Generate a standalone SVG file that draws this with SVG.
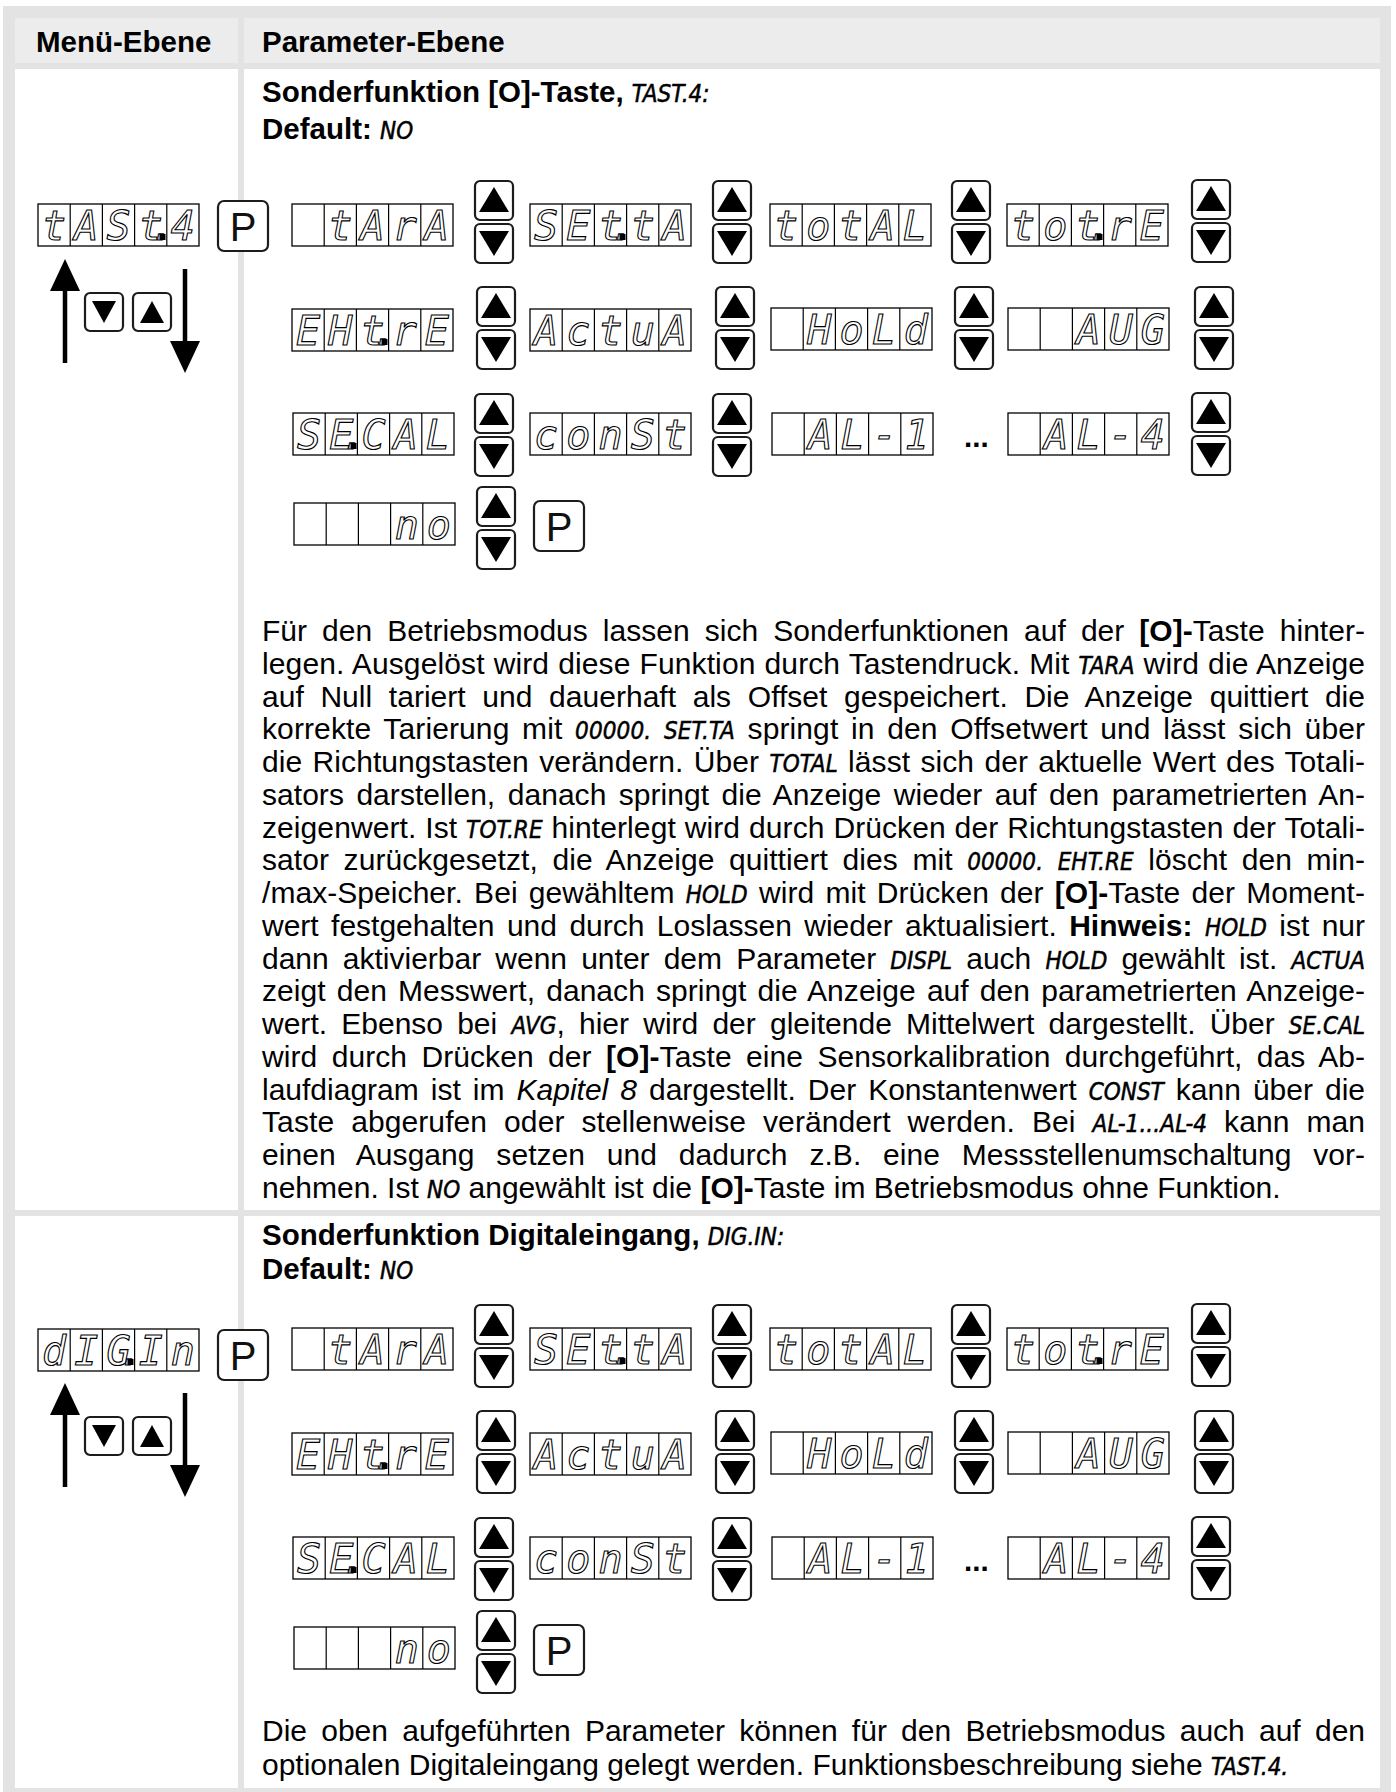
<svg xmlns="http://www.w3.org/2000/svg" width="1396" height="1792" viewBox="0 0 1396 1792">
<style>
.t{font-family:'Liberation Sans',Arial,Helvetica,sans-serif;font-size:30px;fill:#000}
.h{font-family:'Liberation Sans',Arial,Helvetica,sans-serif;font-size:29.5px;font-weight:bold;fill:#000}
.b{font-weight:bold}
.i{font-style:italic}
.c{font-family:'DejaVu Sans Condensed','DejaVu Sans',sans-serif;font-stretch:condensed;font-weight:normal;font-style:oblique;font-size:24px;stroke:#000;stroke-width:0.5}
.seg{font-family:'DejaVu Sans Mono',monospace;font-style:oblique;font-size:40px;fill:#fff;stroke:#000;stroke-width:1.1;text-anchor:middle}
.dpr{fill:#000}
.pt{font-family:'Liberation Sans',Arial,sans-serif;font-size:40px;text-anchor:middle;fill:#111}
.btn{fill:#fff;stroke:#1c1c1c;stroke-width:2.2}
.tri{fill:#000}
.cell{fill:#fff;stroke:#000;stroke-width:1.3}
.grid{stroke:#000;stroke-width:1.2;fill:none}
.arr{stroke:#000;stroke-width:4.5}
</style>
<defs>
<g id="d5"><rect class="cell" width="161" height="42"/><path class="grid" d="M32.2 0V42M64.4 0V42M96.6 0V42M128.8 0V42"/></g>
<g id="ud"><rect class="btn" width="38" height="39" rx="5"/><path class="tri" d="M19 6L34 31H4Z"/><rect class="btn" y="43" width="38" height="39" rx="5"/><path class="tri" d="M4 50H34L19 75Z"/></g>
<rect id="pb" class="btn" width="50" height="50" rx="6"/>
<g id="sdn"><rect class="btn" width="38" height="38" rx="5"/><path class="tri" d="M7 8H31L19 30Z"/></g>
<g id="sup"><rect class="btn" width="38" height="38" rx="5"/><path class="tri" d="M19 8L31 30H7Z"/></g>
</defs>
<rect width="1396" height="1792" fill="#fff"/>
<g id="frame">
<rect x="3" y="6" width="1388" height="1786" fill="#e3e3e3"/>
<rect x="15" y="18" width="223" height="45" fill="#ececec"/>
<rect x="244" y="18" width="1136" height="45" fill="#ececec"/>
<rect x="15" y="69" width="223" height="1141" fill="#fff"/>
<rect x="244" y="69" width="1136" height="1141" fill="#fff"/>
<rect x="15" y="1216" width="223" height="572" fill="#fff"/>
<rect x="244" y="1216" width="1136" height="572" fill="#fff"/>
</g>
<g id="header">
<text class="h" x="36" y="52">Menü-Ebene</text>
<text class="h" x="262" y="52">Parameter-Ebene</text>
</g>

<!-- ROW 1: TAST.4 -->
<g id="row1-title">
<text class="h" x="262" y="102">Sonderfunktion [O]-Taste, <tspan class="c">TAST.4:</tspan></text>
<text class="h" x="262" y="139">Default: <tspan class="c">NO</tspan></text>
</g>
<g id="menu-tast4" transform="translate(38,204)"><use href="#d5"/><text class="seg" x="16.1 48.3 80.5 112.7 124.5 144.9" y="36">tASt.4</text><rect class="dpr" x="121.5" y="30" width="6" height="6"/></g>
<g id="menu-p1"><use href="#pb" x="218" y="201"/><text class="pt" x="243" y="241">P</text></g>
<g id="menu-keys1"><use href="#sdn" x="85" y="293"/><use href="#sup" x="133" y="293"/></g>

<g id="p1-tara" transform="translate(292,204)"><use href="#d5"/><text class="seg" x="48.3 80.5 112.7 144.9" y="36">tArA</text></g>
<g id="p1-ud1"><use href="#ud" x="475" y="181"/></g>
<g id="p1-setta" transform="translate(530,204)"><use href="#d5"/><text class="seg" x="16.1 48.3 80.5 92.5 112.7 144.9" y="36">SEt.tA</text><rect class="dpr" x="89.5" y="30" width="6" height="6"/></g>
<g id="p1-ud2"><use href="#ud" x="713" y="181"/></g>
<g id="p1-total" transform="translate(770,204)"><use href="#d5"/><text class="seg" x="16.1 48.3 80.5 112.7 144.9" y="36">totAL</text></g>
<g id="p1-ud3"><use href="#ud" x="952" y="181"/></g>
<g id="p1-totre" transform="translate(1007,204)"><use href="#d5"/><text class="seg" x="16.1 48.3 80.5 92.5 112.7 144.9" y="36">tot.rE</text><rect class="dpr" x="89.5" y="30" width="6" height="6"/></g>
<g id="p1-ud4"><use href="#ud" x="1192" y="180"/></g>

<g id="p1-ehtre" transform="translate(292,309)"><use href="#d5"/><text class="seg" x="16.1 48.3 80.5 92.5 112.7 144.9" y="36">EHt.rE</text><rect class="dpr" x="89.5" y="30" width="6" height="6"/></g>
<g id="p1-ud5"><use href="#ud" x="477" y="287"/></g>
<g id="p1-actua" transform="translate(530,309)"><use href="#d5"/><text class="seg" x="16.1 48.3 80.5 112.7 144.9" y="36">ActuA</text></g>
<g id="p1-ud6"><use href="#ud" x="716" y="287"/></g>
<g id="p1-hold" transform="translate(771,308)"><use href="#d5"/><text class="seg" x="48.3 80.5 112.7 144.9" y="36">HoLd</text></g>
<g id="p1-ud7"><use href="#ud" x="955" y="287"/></g>
<g id="p1-avg" transform="translate(1008,308)"><use href="#d5"/><text class="seg" x="80.5 112.7 144.9" y="36">AUG</text></g>
<g id="p1-ud8"><use href="#ud" x="1195" y="287"/></g>

<g id="p1-secal" transform="translate(293,413)"><use href="#d5"/><text class="seg" x="16.1 48.3 60.5 80.5 112.7 144.9" y="36">SE.CAL</text><rect class="dpr" x="57.5" y="30" width="6" height="6"/></g>
<g id="p1-ud9"><use href="#ud" x="475" y="394"/></g>
<g id="p1-const" transform="translate(530,413)"><use href="#d5"/><text class="seg" x="16.1 48.3 80.5 112.7 144.9" y="36">conSt</text></g>
<g id="p1-ud10"><use href="#ud" x="713" y="394"/></g>
<g id="p1-al1" transform="translate(772,413)"><use href="#d5"/><text class="seg" x="48.3 80.5 112.7 144.9" y="36">AL-1</text></g>
<g id="p1-dots"><text class="h" x="964" y="447">...</text></g>
<g id="p1-al4" transform="translate(1008,413)"><use href="#d5"/><text class="seg" x="48.3 80.5 112.7 144.9" y="36">AL-4</text></g>
<g id="p1-ud11"><use href="#ud" x="1192" y="393"/></g>

<g id="p1-no" transform="translate(294,503)"><use href="#d5"/><text class="seg" x="112.7 144.9" y="36">no</text></g>
<g id="p1-ud12"><use href="#ud" x="477" y="487"/></g>
<g id="p1-p"><use href="#pb" x="534" y="501"/><text class="pt" x="559" y="541">P</text></g>

<g id="row1-text" class="t">
<text x="262" y="641" word-spacing="6.6" textLength="1103" lengthAdjust="spacing">Für den Betriebsmodus lassen sich Sonderfunktionen auf der <tspan class="b">[O]-</tspan>Taste hinter-</text>
<text x="262" y="673.8" word-spacing="0.6" textLength="1103" lengthAdjust="spacing">legen. Ausgelöst wird diese Funktion durch Tastendruck. Mit <tspan class="c">TARA</tspan> wird die Anzeige</text>
<text x="262" y="706.5" word-spacing="8.3" textLength="1103" lengthAdjust="spacing">auf Null tariert und dauerhaft als Offset gespeichert. Die Anzeige quittiert die</text>
<text x="262" y="739.3" word-spacing="4.2" textLength="1103" lengthAdjust="spacing">korrekte Tarierung mit <tspan class="c">00000.</tspan> <tspan class="c">SET.TA</tspan> springt in den Offsetwert und lässt sich über</text>
<text x="262" y="772" word-spacing="1.9" textLength="1103" lengthAdjust="spacing">die Richtungstasten verändern. Über <tspan class="c">TOTAL</tspan> lässt sich der aktuelle Wert des Totali-</text>
<text x="262" y="804.8" word-spacing="4.1" textLength="1103" lengthAdjust="spacing">sators darstellen, danach springt die Anzeige wieder auf den parametrierten An-</text>
<text x="262" y="837.6" word-spacing="0.5" textLength="1103" lengthAdjust="spacing">zeigenwert. Ist <tspan class="c">TOT.RE</tspan> hinterlegt wird durch Drücken der Richtungstasten der Totali-</text>
<text x="262" y="870.3" word-spacing="6.2" textLength="1103" lengthAdjust="spacing">sator zurückgesetzt, die Anzeige quittiert dies mit <tspan class="c">00000.</tspan> <tspan class="c">EHT.RE</tspan> löscht den min-</text>
<text x="262" y="903.1" word-spacing="2.8" textLength="1103" lengthAdjust="spacing">/max-Speicher. Bei gewähltem <tspan class="c">HOLD</tspan> wird mit Drücken der <tspan class="b">[O]-</tspan>Taste der Moment-</text>
<text x="262" y="935.8" word-spacing="4.1" textLength="1103" lengthAdjust="spacing">wert festgehalten und durch Loslassen wieder aktualisiert. <tspan class="b">Hinweis:</tspan> <tspan class="c">HOLD</tspan> ist nur</text>
<text x="262" y="968.6" word-spacing="5.8" textLength="1103" lengthAdjust="spacing">dann aktivierbar wenn unter dem Parameter <tspan class="c">DISPL</tspan> auch <tspan class="c">HOLD</tspan> gewählt ist. <tspan class="c">ACTUA</tspan></text>
<text x="262" y="1001.4" word-spacing="2.75" textLength="1103" lengthAdjust="spacing">zeigt den Messwert, danach springt die Anzeige auf den parametrierten Anzeige-</text>
<text x="262" y="1034.1" word-spacing="5.8" textLength="1103" lengthAdjust="spacing">wert. Ebenso bei <tspan class="c">AVG</tspan>, hier wird der gleitende Mittelwert dargestellt. Über <tspan class="c">SE.CAL</tspan></text>
<text x="262" y="1066.9" word-spacing="6.0" textLength="1103" lengthAdjust="spacing">wird durch Drücken der <tspan class="b">[O]-</tspan>Taste eine Sensorkalibration durchgeführt, das Ab-</text>
<text x="262" y="1099.6" word-spacing="3.7" textLength="1103" lengthAdjust="spacing">laufdiagram ist im <tspan class="i">Kapitel 8</tspan> dargestellt. Der Konstantenwert <tspan class="c">CONST</tspan> kann über die</text>
<text x="262" y="1132.4" word-spacing="8.5" textLength="1103" lengthAdjust="spacing">Taste abgerufen oder stellenweise verändert werden. Bei <tspan class="c">AL-1...AL-4</tspan> kann man</text>
<text x="262" y="1165.2" word-spacing="13.4" textLength="1103" lengthAdjust="spacing">einen Ausgang setzen und dadurch z.B. eine Messstellenumschaltung vor-</text>
<text x="262" y="1198">nehmen. Ist <tspan class="c">NO</tspan> angewählt ist die <tspan class="b">[O]-</tspan>Taste im Betriebsmodus ohne Funktion.</text>
</g>

<!-- ROW 2: DIG.IN -->
<g id="row2-title">
<text class="h" x="262" y="1245">Sonderfunktion Digitaleingang, <tspan class="c">DIG.IN:</tspan></text>
<text class="h" x="262" y="1279">Default: <tspan class="c">NO</tspan></text>
</g>
<g transform="translate(0,1124)">
<g id="menu-digin" transform="translate(38,205)"><use href="#d5"/><text class="seg" x="16.1 48.3 80.5 92.5 112.7 144.9" y="36">dIG.In</text><rect class="dpr" x="89.5" y="30" width="6" height="6"/></g>
<g id="menu-p2"><use href="#pb" x="218" y="206"/><text class="pt" x="243" y="246">P</text></g>
<g id="menu-keys2"><use href="#sdn" x="85" y="293"/><use href="#sup" x="133" y="293"/></g>

<g id="p2-tara" transform="translate(292,204)"><use href="#d5"/><text class="seg" x="48.3 80.5 112.7 144.9" y="36">tArA</text></g>
<g id="p2-ud1"><use href="#ud" x="475" y="181"/></g>
<g id="p2-setta" transform="translate(530,204)"><use href="#d5"/><text class="seg" x="16.1 48.3 80.5 92.5 112.7 144.9" y="36">SEt.tA</text><rect class="dpr" x="89.5" y="30" width="6" height="6"/></g>
<g id="p2-ud2"><use href="#ud" x="713" y="181"/></g>
<g id="p2-total" transform="translate(770,204)"><use href="#d5"/><text class="seg" x="16.1 48.3 80.5 112.7 144.9" y="36">totAL</text></g>
<g id="p2-ud3"><use href="#ud" x="952" y="181"/></g>
<g id="p2-totre" transform="translate(1007,204)"><use href="#d5"/><text class="seg" x="16.1 48.3 80.5 92.5 112.7 144.9" y="36">tot.rE</text><rect class="dpr" x="89.5" y="30" width="6" height="6"/></g>
<g id="p2-ud4"><use href="#ud" x="1192" y="180"/></g>

<g id="p2-ehtre" transform="translate(292,309)"><use href="#d5"/><text class="seg" x="16.1 48.3 80.5 92.5 112.7 144.9" y="36">EHt.rE</text><rect class="dpr" x="89.5" y="30" width="6" height="6"/></g>
<g id="p2-ud5"><use href="#ud" x="477" y="287"/></g>
<g id="p2-actua" transform="translate(530,309)"><use href="#d5"/><text class="seg" x="16.1 48.3 80.5 112.7 144.9" y="36">ActuA</text></g>
<g id="p2-ud6"><use href="#ud" x="716" y="287"/></g>
<g id="p2-hold" transform="translate(771,308)"><use href="#d5"/><text class="seg" x="48.3 80.5 112.7 144.9" y="36">HoLd</text></g>
<g id="p2-ud7"><use href="#ud" x="955" y="287"/></g>
<g id="p2-avg" transform="translate(1008,308)"><use href="#d5"/><text class="seg" x="80.5 112.7 144.9" y="36">AUG</text></g>
<g id="p2-ud8"><use href="#ud" x="1195" y="287"/></g>

<g id="p2-secal" transform="translate(293,413)"><use href="#d5"/><text class="seg" x="16.1 48.3 60.5 80.5 112.7 144.9" y="36">SE.CAL</text><rect class="dpr" x="57.5" y="30" width="6" height="6"/></g>
<g id="p2-ud9"><use href="#ud" x="475" y="394"/></g>
<g id="p2-const" transform="translate(530,413)"><use href="#d5"/><text class="seg" x="16.1 48.3 80.5 112.7 144.9" y="36">conSt</text></g>
<g id="p2-ud10"><use href="#ud" x="713" y="394"/></g>
<g id="p2-al1" transform="translate(772,413)"><use href="#d5"/><text class="seg" x="48.3 80.5 112.7 144.9" y="36">AL-1</text></g>
<g id="p2-dots"><text class="h" x="964" y="447">...</text></g>
<g id="p2-al4" transform="translate(1008,413)"><use href="#d5"/><text class="seg" x="48.3 80.5 112.7 144.9" y="36">AL-4</text></g>
<g id="p2-ud11"><use href="#ud" x="1192" y="393"/></g>

<g id="p2-no" transform="translate(294,503)"><use href="#d5"/><text class="seg" x="112.7 144.9" y="36">no</text></g>
<g id="p2-ud12"><use href="#ud" x="477" y="487"/></g>
<g id="p2-p"><use href="#pb" x="534" y="501"/><text class="pt" x="559" y="541">P</text></g>
</g>

<g id="row2-text" class="t">
<text x="262" y="1741" word-spacing="5.9" textLength="1103" lengthAdjust="spacing">Die oben aufgeführten Parameter können für den Betriebsmodus auch auf den</text>
<text x="262" y="1775">optionalen Digitaleingang gelegt werden. Funktionsbeschreibung siehe <tspan class="c">TAST.4.</tspan></text>
</g>

<g id="connectors">
<g id="arrow-up-1"><line class="arr" x1="65" y1="363" x2="65" y2="286"/><path d="M65 259L80 291H50Z"/></g>
<g id="arrow-down-1"><line class="arr" x1="185" y1="269" x2="185" y2="345"/><path d="M170 341H200L185 373Z"/></g>
<g id="arrow-up-2"><line class="arr" x1="65" y1="1487" x2="65" y2="1410"/><path d="M65 1383L80 1415H50Z"/></g>
<g id="arrow-down-2"><line class="arr" x1="185" y1="1393" x2="185" y2="1469"/><path d="M170 1465H200L185 1497Z"/></g>
</g>
</svg>
